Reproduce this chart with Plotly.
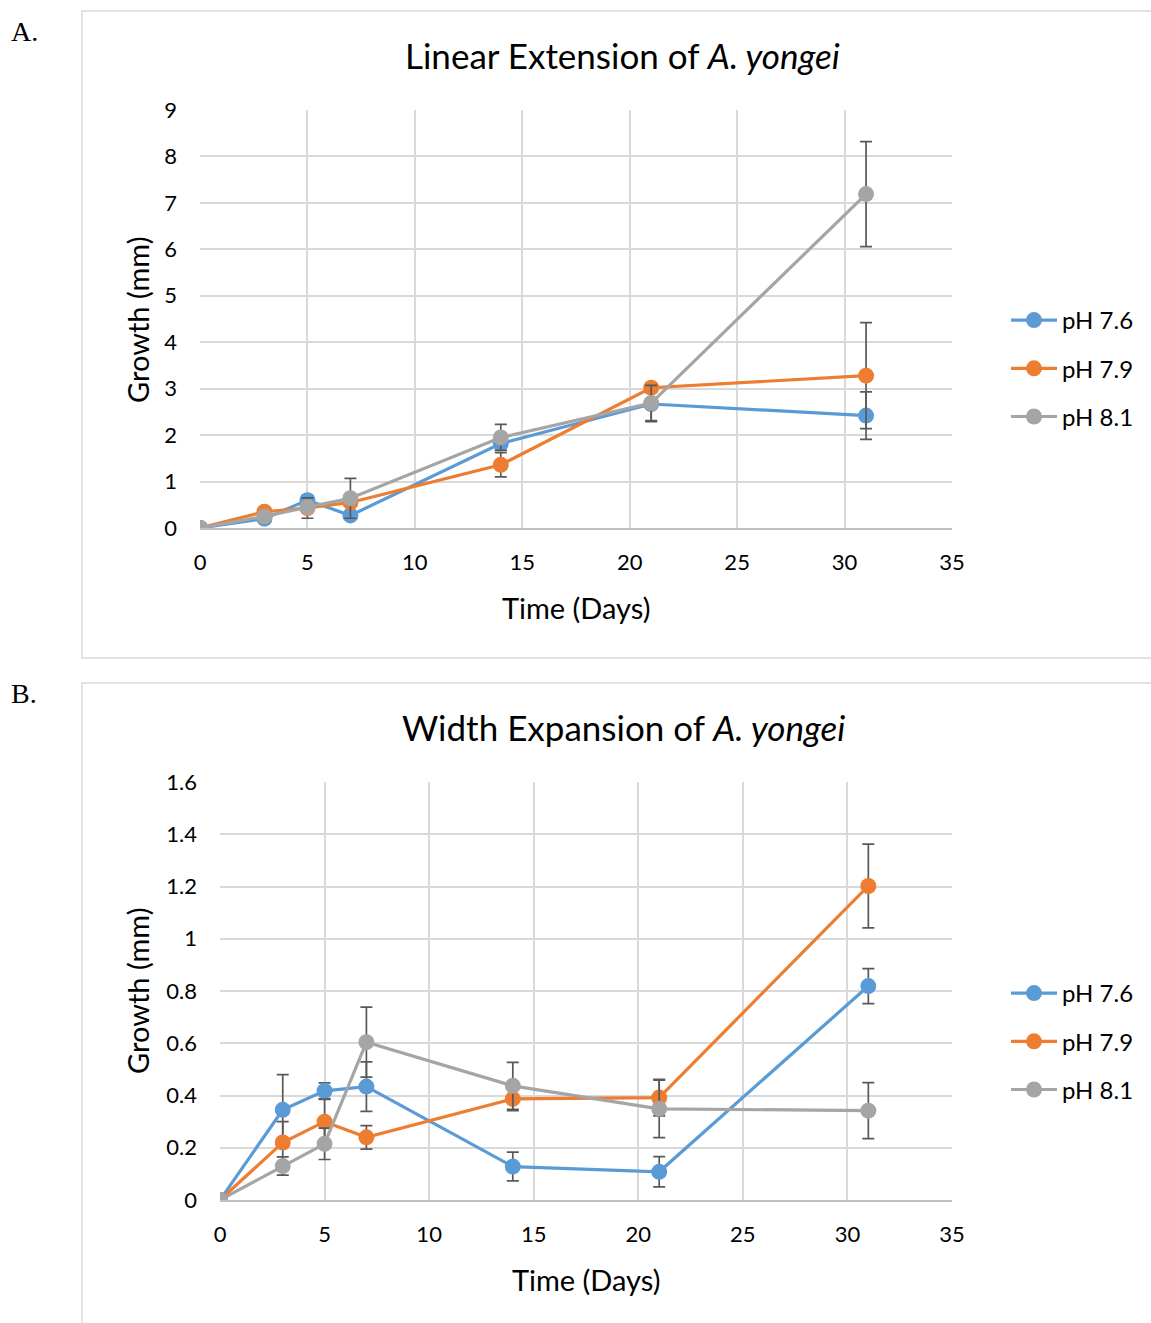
import plotly.graph_objects as go

# ---- data ----
days = [0, 3, 5, 7, 14, 21, 31]
series_names = ["pH 7.6", "pH 7.9", "pH 8.1"]
colors = ["#5B9BD5", "#ED7D31", "#A5A5A5"]

lin_76 = [0, 0.20, 0.60, 0.27, 1.82, 2.67, 2.42]
lin_79 = [0, 0.35, 0.43, 0.55, 1.36, 3.02, 3.28]
lin_81 = [0, 0.25, 0.45, 0.64, 1.95, 2.69, 7.19]
lin_err_76 = [0, 0.05, 0.10, 0.05, 0.15, 0.38, 0.51]
lin_err_79 = [0, 0.05, 0.22, 0.05, 0.26, 0.10, 1.14]
lin_err_81 = [0, 0.05, 0.05, 0.43, 0.28, 0.38, 1.13]

wid_76 = [0, 0.345, 0.418, 0.434, 0.128, 0.108, 0.819]
wid_79 = [0, 0.220, 0.300, 0.240, 0.387, 0.392, 1.202]
wid_81 = [0, 0.130, 0.215, 0.604, 0.437, 0.349, 0.342]
wid_err_76 = [0, 0.135, 0.030, 0.095, 0.055, 0.058, 0.067]
wid_err_79 = [0, 0.080, 0.085, 0.045, 0.045, 0.070, 0.160]
wid_err_81 = [0, 0.035, 0.060, 0.134, 0.090, 0.110, 0.107]

x_ticks = [0, 5, 10, 15, 20, 25, 30, 35]

W, H = 1151, 1323
FONT = "Lato"
GRID = "#d9d9d9"
ERRC = "#595959"


def px(x):
    return x / W


def py(y):
    return 1 - y / H


fig = go.Figure()

lin = [(lin_76, lin_err_76), (lin_79, lin_err_79), (lin_81, lin_err_81)]
wid = [(wid_76, wid_err_76), (wid_79, wid_err_79), (wid_81, wid_err_81)]

for i, (vals, errs) in enumerate(lin):
    fig.add_trace(go.Scatter(
        x=days, y=vals, name=series_names[i], mode="lines+markers",
        line=dict(color=colors[i], width=3.2),
        marker=dict(color=colors[i], size=16),
        error_y=dict(type="data", array=errs, color=ERRC, thickness=1.7, width=6),
        xaxis="x", yaxis="y", legend="legend", legendgroup="a%d" % i,
    ))

for i, (vals, errs) in enumerate(wid):
    fig.add_trace(go.Scatter(
        x=days, y=vals, name=series_names[i], mode="lines+markers",
        line=dict(color=colors[i], width=3.2),
        marker=dict(color=colors[i], size=16),
        error_y=dict(type="data", array=errs, color=ERRC, thickness=1.7, width=6),
        xaxis="x2", yaxis="y2", legend="legend2", legendgroup="b%d" % i,
    ))

tickfont = dict(family=FONT, size=22, color="#000000")
axis_common = dict(
    showgrid=True, gridcolor=GRID, gridwidth=1.5, zeroline=False,
    ticks="", tickfont=tickfont, fixedrange=True, automargin=False,
)

fig.update_layout(
    template="none",
    width=W, height=H,
    margin=dict(l=0, r=0, t=0, b=0, pad=0, autoexpand=False),
    paper_bgcolor="white", plot_bgcolor="white",
    font=dict(family=FONT, color="#000000"),
    xaxis=dict(domain=[px(200), px(952)], range=[0, 35], tickvals=x_ticks,
               showline=True, linecolor="#bfbfbf", linewidth=1.5,
               anchor="y", ticklabelstandoff=14, **axis_common),
    yaxis=dict(domain=[py(528), py(110)], range=[0, 9],
               tickvals=[0, 1, 2, 3, 4, 5, 6, 7, 8, 9],
               anchor="x", ticklabelstandoff=22, **axis_common),
    xaxis2=dict(domain=[px(220), px(952)], range=[0, 35], tickvals=x_ticks,
                showline=True, linecolor="#bfbfbf", linewidth=1.5,
                anchor="y2", ticklabelstandoff=14, **axis_common),
    yaxis2=dict(domain=[py(1200), py(782)], range=[0, 1.6],
                tickvals=[0, 0.2, 0.4, 0.6, 0.8, 1.0, 1.2, 1.4, 1.6],
                ticktext=["0", "0.2", "0.4", "0.6", "0.8", "1", "1.2", "1.4", "1.6"],
                anchor="x2", ticklabelstandoff=22, **axis_common),
    legend=dict(x=px(1006), y=py(298), xanchor="left", yanchor="top",
                font=dict(family=FONT, size=24), tracegroupgap=14,
                itemwidth=46, bgcolor="rgba(0,0,0,0)", borderwidth=0),
    legend2=dict(x=px(1006), y=py(971), xanchor="left", yanchor="top",
                 font=dict(family=FONT, size=24), tracegroupgap=14,
                 itemwidth=46, bgcolor="rgba(0,0,0,0)", borderwidth=0),
    showlegend=True,
)

# panel frames
fig.add_shape(type="rect", xref="paper", yref="paper",
              x0=px(82), x1=px(1160), y0=py(658), y1=py(11),
              line=dict(color=GRID, width=1.5), layer="below")
fig.add_shape(type="rect", xref="paper", yref="paper",
              x0=px(82), x1=px(1160), y0=py(1340), y1=py(683),
              line=dict(color=GRID, width=1.5), layer="below")

ann = []
# panel letters
ann.append(dict(text="A.", x=px(9), y=py(31), xanchor="left", yanchor="middle",
                font=dict(family="Liberation Serif", size=28)))
ann.append(dict(text="B.", x=px(9), y=py(693), xanchor="left", yanchor="middle",
                font=dict(family="Liberation Serif", size=28)))
# titles
ann.append(dict(text="Linear Extension of <i>A. yongei</i>", x=px(622), y=py(55),
                xanchor="center", yanchor="middle", font=dict(family=FONT, size=35)))
ann.append(dict(text="Width Expansion of <i>A. yongei</i>", x=px(623), y=py(727),
                xanchor="center", yanchor="middle", font=dict(family=FONT, size=35)))
# axis titles
ann.append(dict(text="Time (Days)", x=px(576), y=py(607), xanchor="center",
                yanchor="middle", font=dict(family=FONT, size=29)))
ann.append(dict(text="Time (Days)", x=px(586), y=py(1279), xanchor="center",
                yanchor="middle", font=dict(family=FONT, size=29)))
ann.append(dict(text="Growth (mm)", x=px(137), y=py(320), xanchor="center",
                yanchor="middle", textangle=-90, font=dict(family=FONT, size=29)))
ann.append(dict(text="Growth (mm)", x=px(137), y=py(991), xanchor="center",
                yanchor="middle", textangle=-90, font=dict(family=FONT, size=29)))

for a in ann:
    a.update(xref="paper", yref="paper", showarrow=False)
    fig.add_annotation(**a)

fig.write_html(
    "out.html",
    post_script="document.body.style.margin='0';document.body.style.overflow='hidden';",
)
